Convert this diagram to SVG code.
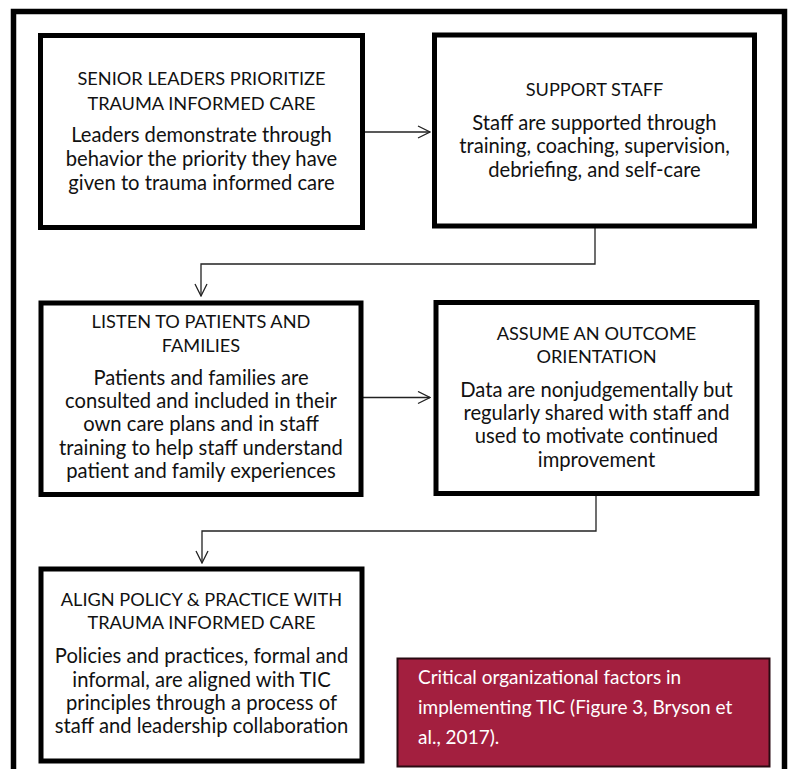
<svg xmlns="http://www.w3.org/2000/svg" width="788" height="769" viewBox="0 0 788 769">
<defs>
<style>
.box{fill:#fff;stroke:#000;stroke-width:5}
.t{font-family:Lato,"Liberation Sans",sans-serif;font-size:20.2px;fill:#111;text-anchor:middle}
.h{font-family:Lato,"Liberation Sans",sans-serif;font-size:18.2px;fill:#111;text-anchor:middle}
.conn{fill:none;stroke:#222;stroke-width:1.3}
.cap{font-family:Lato,"Liberation Sans",sans-serif;font-size:19px;fill:#fff}
</style>
<marker id="arr" viewBox="0 0 14 14" refX="13" refY="7" markerWidth="14" markerHeight="14" markerUnits="userSpaceOnUse" orient="auto">
<path d="M1,1 L13,7 L1,13" fill="none" stroke="#222" stroke-width="1.3"/>
</marker>
</defs>
<rect width="788" height="769" fill="#fff"/>
<path d="M13.5,769 V11.5 H784.5 V769" fill="none" stroke="#000" stroke-width="5.5"/>
<g id="connectors">
<path class="conn" d="M362.5,132 H430" marker-end="url(#arr)"/>
<path class="conn" d="M595,228 V264 H201 V296" marker-end="url(#arr)"/>
<path class="conn" d="M361,397.5 H430" marker-end="url(#arr)"/>
<path class="conn" d="M596,496 V531 H202 V563" marker-end="url(#arr)"/>
</g>
<g id="node1">
<rect class="box" x="40.5" y="35.5" width="322" height="192"/>
<text class="h" x="201.5" y="85">SENIOR LEADERS PRIORITIZE</text>
<text class="h" x="201.5" y="110">TRAUMA INFORMED CARE</text>
<text class="t" x="201.5" y="142">Leaders demonstrate through</text>
<text class="t" x="201.5" y="166">behavior the priority they have</text>
<text class="t" x="201.5" y="190">given to trauma informed care</text>
</g>
<g id="node2">
<rect class="box" x="434.5" y="35" width="320" height="191"/>
<text class="h" x="594.5" y="96">SUPPORT STAFF</text>
<text class="t" x="594.5" y="130">Staff are supported through</text>
<text class="t" x="594.5" y="153">training, coaching, supervision,</text>
<text class="t" x="594.5" y="177">debriefing, and self-care</text>
</g>
<g id="node3">
<rect class="box" x="41" y="303" width="320" height="191.5"/>
<text class="h" x="201" y="328">LISTEN TO PATIENTS AND</text>
<text class="h" x="201" y="352">FAMILIES</text>
<text class="t" x="201" y="385">Patients and families are</text>
<text class="t" x="201" y="408">consulted and included in their</text>
<text class="t" x="201" y="431">own care plans and in staff</text>
<text class="t" x="201" y="455">training to help staff understand</text>
<text class="t" x="201" y="478">patient and family experiences</text>
</g>
<g id="node4">
<rect class="box" x="436" y="302.5" width="321" height="191"/>
<text class="h" x="596.5" y="340">ASSUME AN OUTCOME</text>
<text class="h" x="596.5" y="363">ORIENTATION</text>
<text class="t" x="596.5" y="397">Data are nonjudgementally but</text>
<text class="t" x="596.5" y="420">regularly shared with staff and</text>
<text class="t" x="596.5" y="443">used to motivate continued</text>
<text class="t" x="596.5" y="467">improvement</text>
</g>
<g id="node5">
<rect class="box" x="41" y="569" width="321" height="192"/>
<text class="h" x="201.5" y="606">ALIGN POLICY &amp; PRACTICE WITH</text>
<text class="h" x="201.5" y="629">TRAUMA INFORMED CARE</text>
<text class="t" x="201.5" y="663">Policies and practices, formal and</text>
<text class="t" x="201.5" y="687">informal, are aligned with TIC</text>
<text class="t" x="201.5" y="710">principles through a process of</text>
<text class="t" x="201.5" y="733">staff and leadership collaboration</text>
</g>
<g id="caption">
<rect x="397.5" y="658.5" width="372" height="108" fill="#A31F3F" stroke="#2a0a12" stroke-width="2"/>
<text class="cap" x="418" y="684">Critical organizational factors in</text>
<text class="cap" x="418" y="714">implementing TIC (Figure 3, Bryson et</text>
<text class="cap" x="418" y="744">al., 2017).</text>
</g>
</svg>
